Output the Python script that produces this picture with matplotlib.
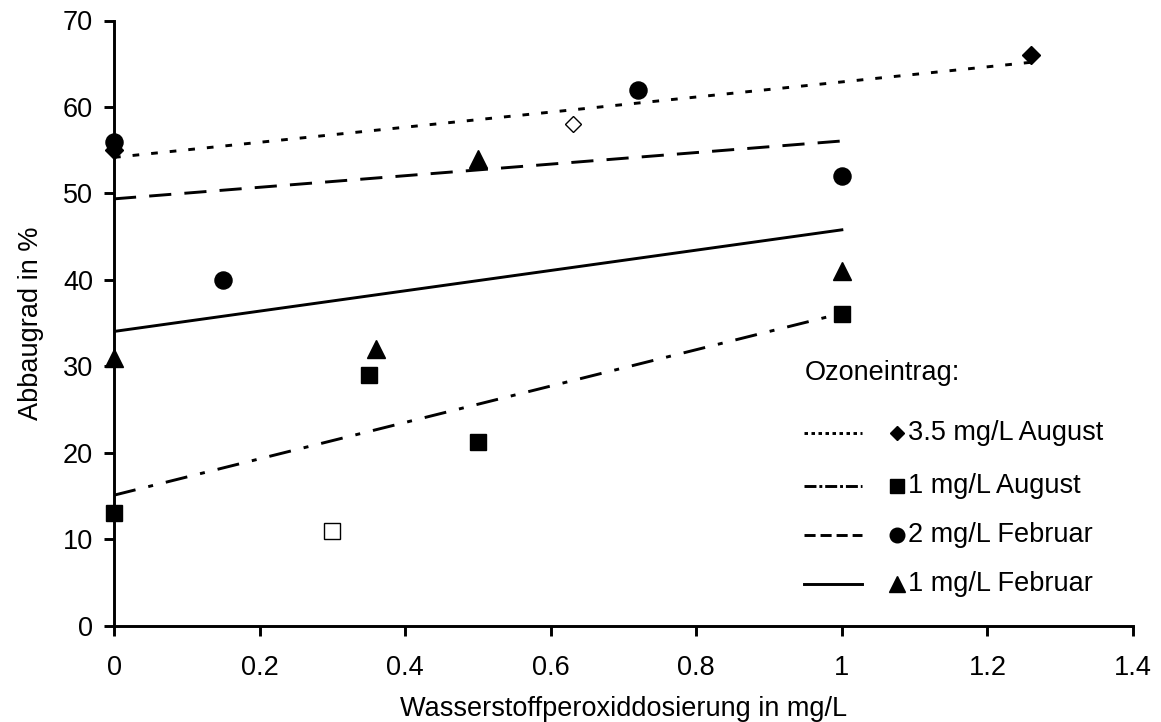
import numpy as np
import matplotlib
matplotlib.use('Agg')
import matplotlib.pyplot as plt
from matplotlib.lines import Line2D

plt.rcParams['font.family'] = ['Liberation Sans', 'DejaVu Sans']

# ------------------------------------------------------------
# Abbaugrad vs. H2O2-Dosierung, vier Ozoneintraege
# ------------------------------------------------------------
# 3.5 mg/L August (Rauten), offener Punkt geht in den Trend mit ein
aug35_x = [0.0, 1.26]
aug35_y = [55.0, 66.0]
aug35_open_x = [0.63]
aug35_open_y = [58.0]

# 1 mg/L August (Quadrate), offener Punkt nicht im Trend
aug1_x = [0.0, 0.35, 0.5, 1.0]
aug1_y = [13.0, 29.0, 21.3, 36.0]
aug1_open_x = [0.3]
aug1_open_y = [11.0]

# 2 mg/L Februar (Kreise)
feb2_x = [0.0, 0.15, 0.72, 1.0]
feb2_y = [56.0, 40.0, 62.0, 52.0]

# 1 mg/L Februar (Dreiecke)
feb1_x = [0.0, 0.36, 0.5, 1.0]
feb1_y = [31.0, 32.0, 54.0, 41.0]

legend_labels = ['3.5 mg/L August', '1 mg/L August', '2 mg/L Februar', '1 mg/L Februar']

W, H = 1161, 722
FS = 19.5
LW = 2.1

fig = plt.figure(figsize=(W / 100, H / 100), dpi=100)
ax = fig.add_axes([114 / W, 1 - 625.7 / H, (1133 - 114) / W, (625.7 - 20.5) / H])

def trend(ax, xs, ys, dashes):
    k, d = np.polyfit(xs, ys, 1)
    xx = np.array([min(xs), max(xs)])
    ln, = ax.plot(xx, k * xx + d, color='black', lw=LW, zorder=2)
    if dashes is not None:
        ln.set_dashes(dashes)
    return ln

dot_d = (2.3, 4.1)
dash_d = (7.6, 4.5)
dashdot_d = (7.6, 4.5, 1.7, 4.5)

trend(ax, aug35_x + aug35_open_x, aug35_y + aug35_open_y, dot_d)
trend(ax, aug1_x, aug1_y, dashdot_d)
trend(ax, feb2_x, feb2_y, dash_d)
trend(ax, feb1_x, feb1_y, None)

mk = dict(color='black', ls='none', clip_on=False, zorder=4)
ax.plot(aug1_x, aug1_y, marker='s', ms=12, **mk)
ax.plot(feb1_x, feb1_y, marker='^', ms=12.5, **mk)
ax.plot(aug35_x, aug35_y, marker='D', ms=9.3, **mk)
ax.plot(feb2_x, feb2_y, marker='o', ms=12.3, **mk)
ax.plot(aug35_open_x, aug35_open_y, marker='D', ms=8.6, mfc='white', mec='black',
        mew=1.0, ls='none', zorder=4)
ax.plot(aug1_open_x, aug1_open_y, marker='s', ms=11.5, mfc='white', mec='black',
        mew=1.0, ls='none', zorder=4)

ax.set_xlim(0, 1.4)
ax.set_ylim(0, 70)
ax.set_xticks(np.arange(0, 1.41, 0.2))
ax.set_xticklabels(['0', '0.2', '0.4', '0.6', '0.8', '1', '1.2', '1.4'])
ax.set_yticks(np.arange(0, 71, 10))
for s in ['top', 'right']:
    ax.spines[s].set_visible(False)
for s in ['left', 'bottom']:
    ax.spines[s].set_linewidth(2.1)
ax.tick_params(axis='both', direction='out', length=7, width=2.1, labelsize=FS)
ax.tick_params(axis='x', pad=13.8)
ax.tick_params(axis='y', pad=8)

ax.set_xlabel('Wasserstoffperoxiddosierung in mg/L', fontsize=FS, va='center')
ax.xaxis.set_label_coords(0.5, (625.7 - 709) / 605.2)
ax.set_ylabel('Abbaugrad in %', fontsize=FS, va='center')
ax.yaxis.set_label_coords((31 - 114) / 1019, 0.5)

# handgebaute Legende rechts unten
def fx(px): return px / W
def fy(py): return 1 - py / H

fig.text(fx(805), fy(373), 'Ozoneintrag:', fontsize=FS, va='center', ha='left')
rows_y = [433, 486, 535, 584]
leg_dashes = [(1.2, 1.2), (4.1, 1.0, 1.0, 1.0), (3.8, 1.7), None]
leg_markers = [('D', 7.0), ('s', 10.5), ('o', 10.5), ('^', 11.0)]
for py, lab, dd, (m, ms) in zip(rows_y, legend_labels, leg_dashes, leg_markers):
    ln = Line2D([fx(804), fx(862)], [fy(py), fy(py)], transform=fig.transFigure,
                color='black', lw=LW)
    if dd is not None:
        ln.set_dashes(dd)
    fig.add_artist(ln)
    fig.add_artist(Line2D([fx(897)], [fy(py)], transform=fig.transFigure,
                          marker=m, ms=ms, color='black', ls='none'))
    fig.text(fx(908), fy(py), lab, fontsize=FS, va='center', ha='left')

fig.savefig('out.png', dpi=100)
